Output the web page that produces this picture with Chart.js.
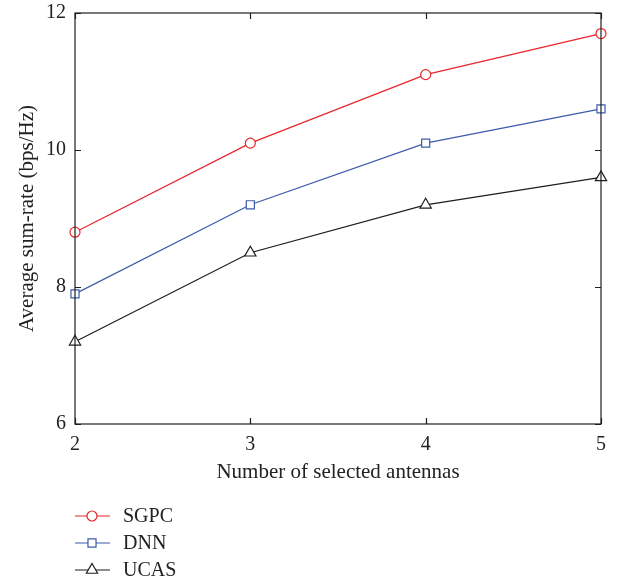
<!DOCTYPE html>
<html>
<head>
<meta charset="utf-8">
<script src="https://cdn.jsdelivr.net/npm/chart.js@4/dist/chart.umd.min.js"></script>
<style>
html,body{margin:0;padding:0;background:#fff;}
#c{display:block;}
</style>
</head>
<body>
<canvas id="c" width="625" height="581"></canvas>
<script>
const antennas = [2, 3, 4, 5];
const sgpc = [8.8, 10.1, 11.1, 11.7];
const dnn  = [7.9, 9.2, 10.1, 10.6];
const ucas = [7.2, 8.5, 9.2, 9.6];
const seriesNames = ['SGPC', 'DNN', 'UCAS'];
const yTicks = [6, 8, 10, 12];
const xTicks = [2, 3, 4, 5];

const FONT = '"Liberation Serif", "Times New Roman", serif';
const RED = '#e8262b', BLUE = '#3b5bab', BLACK = '#1e1e1e';

function pts(arr){ return antennas.map((a,i)=>({x:a, y:arr[i]})); }

const boxPlugin = {
  id: 'box',
  afterDatasetsDraw(chart){
    const {ctx, chartArea:a, scales:{x, y}} = chart;
    ctx.save();
    ctx.strokeStyle = '#1e1e1e';
    ctx.lineWidth = 1.2;
    ctx.strokeRect(a.left, a.top, a.right-a.left, a.bottom-a.top);
    ctx.beginPath();
    const L = 6;
    yTicks.forEach(v=>{
      const py = Math.round(y.getPixelForValue(v))+0.5;
      ctx.moveTo(a.left, py); ctx.lineTo(a.left+L, py);
      ctx.moveTo(a.right, py); ctx.lineTo(a.right-L, py);
    });
    xTicks.forEach(v=>{
      const px = Math.round(x.getPixelForValue(v))+0.5;
      ctx.moveTo(px, a.bottom); ctx.lineTo(px, a.bottom-L);
      ctx.moveTo(px, a.top); ctx.lineTo(px, a.top+L);
    });
    ctx.stroke();
    ctx.restore();
  },
  afterDraw(chart){
    const {ctx} = chart;
    ctx.save();
    const rows = [516, 543, 570];
    chart.data.datasets.forEach((ds, i)=>{
      const yy = rows[i];
      ctx.strokeStyle = ds.borderColor;
      ctx.lineWidth = 1.2;
      ctx.beginPath();
      ctx.moveTo(75, yy); ctx.lineTo(110, yy);
      ctx.stroke();
      ctx.fillStyle = '#fff';
      Chart.helpers.drawPoint(ctx, {pointStyle: ds.pointStyle, radius: ds.pointRadius, borderWidth: 1.2}, 92, yy);
      ctx.fillStyle = '#222';
      ctx.font = '20px ' + FONT;
      ctx.textBaseline = 'middle';
      ctx.textAlign = 'left';
      ctx.fillText(ds.label, 123, yy+1);
    });
    ctx.restore();
  }
};

new Chart(document.getElementById('c'), {
  type: 'line',
  data: {
    datasets: [
      {label: seriesNames[0], data: pts(sgpc), borderColor: RED, pointStyle: 'circle', pointRadius: 5},
      {label: seriesNames[1], data: pts(dnn), borderColor: BLUE, pointStyle: 'rect', pointRadius: 5.7},
      {label: seriesNames[2], data: pts(ucas), borderColor: BLACK, pointStyle: 'triangle', pointRadius: 6.5}
    ].map(d=>Object.assign(d, {borderWidth: 1.2, pointBorderWidth: 1.2, pointBackgroundColor: '#fff', pointBorderColor: d.borderColor, fill: false, tension: 0, clip: false}))
  },
  options: {
    responsive: false,
    animation: false,
    devicePixelRatio: 1,
    layout: {padding: {top: 13, right: 24, left: 0, bottom: 0}},
    plugins: {legend: {display: false}, tooltip: {enabled: false}},
    scales: {
      x: {
        type: 'linear', min: 2, max: 5,
        afterFit(s){ s.height = 157; s.paddingLeft = 0; s.paddingRight = 0; },
        afterBuildTicks(s){ s.ticks = xTicks.map(v=>({value:v})); },
        grid: {display: false, drawTicks: false},
        border: {display: false},
        ticks: {padding: 9, color: '#222', font: {family: FONT, size: 20}},
        title: {display: true, text: 'Number of selected antennas', color: '#222', font: {family: FONT, size: 21}, padding: {top: 0, bottom: 96}}
      },
      y: {
        type: 'linear', min: 6, max: 12,
        afterFit(s){ s.width = 75; s.paddingTop = 0; s.paddingBottom = 0; },
        afterBuildTicks(s){ s.ticks = yTicks.map(v=>({value:v})); },
        grid: {display: false, drawTicks: false},
        border: {display: false},
        ticks: {padding: 9, color: '#222', font: {family: FONT, size: 20}},
        title: {display: true, text: 'Average sum-rate (bps/Hz)', color: '#222', font: {family: FONT, size: 21}, padding: {top: 15, bottom: 0}}
      }
    }
  },
  plugins: [boxPlugin]
});
</script>
</body>
</html>
